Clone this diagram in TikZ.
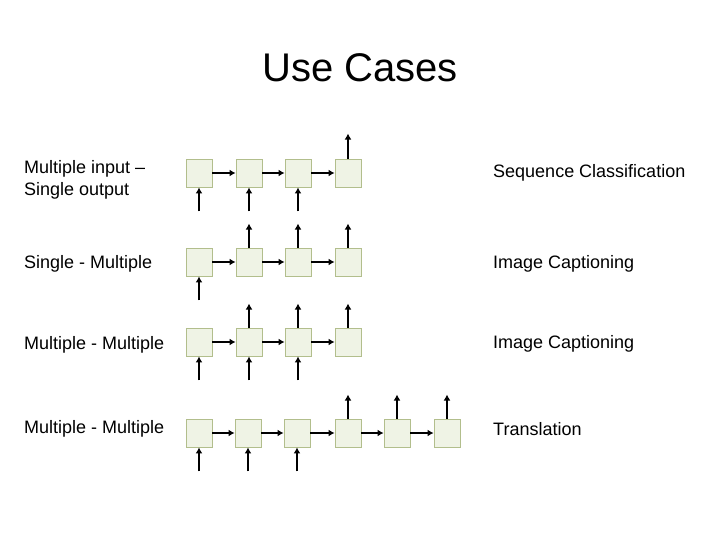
\documentclass[tikz,border=0pt]{standalone}
\usepackage{fontspec}
\setmainfont{Liberation Sans}
\usetikzlibrary{calc,arrows.meta}
\definecolor{cellfill}{RGB}{239,243,229}
\definecolor{celldraw}{RGB}{178,190,140}
\begin{document}
\begin{tikzpicture}[x=1pt,y=-1pt,
cell/.style={draw=celldraw,fill=cellfill,line width=0.9pt,minimum width=26pt,minimum height=28pt,inner sep=0pt},
link/.style={line width=2.8pt,-{Latex[length=6pt,width=7pt]}},
lbl/.style={font=\fontsize{18}{21.6}\selectfont,anchor=west,align=left,inner sep=0pt}]
\useasboundingbox (0,0) rectangle (720,540);
\node (title) at (360,68) {\fontsize{40}{44}\selectfont Use Cases};

\node[lbl] (many-one) at (24,180) {Multiple input --\\Single output};
\node[lbl] (one-many) at (24,264) {Single - Multiple};
\node[lbl] (many-many) at (24,345) {Multiple - Multiple};
\node[lbl] (seq-seq) at (24,429) {Multiple - Multiple};
\node[lbl] (classify) at (493,173) {Sequence Classification};
\node[lbl] (caption1) at (493,264) {Image Captioning};
\node[lbl] (caption2) at (493,344) {Image Captioning};
\node[lbl] (translate) at (493,429) {Translation};

\foreach \i/\x in {1/199,2/249,3/298,4/348} {
\node[cell] (a\i) at (\x,173) {};
\node[cell] (b\i) at (\x,262) {};
\node[cell] (c\i) at (\x,342) {};
}
\foreach \i/\x in {1/199,2/248,3/297,4/348,5/397,6/447}
\node[cell] (d\i) at (\x,433) {};

\foreach \i/\j in {1/2,2/3,3/4} {
\draw[link] (a\i) -- (a\j);
\draw[link] (b\i) -- (b\j);
\draw[link] (c\i) -- (c\j);
}
\foreach \i/\j in {1/2,2/3,3/4,4/5,5/6}
\draw[link] (d\i) -- (d\j);

\foreach \i in {1,2,3} {
\coordinate (ain\i) at ($(a\i.south)+(0,24)$);
\draw[link] (ain\i) -- (a\i.south);
\coordinate (cin\i) at ($(c\i.south)+(0,24)$);
\draw[link] (cin\i) -- (c\i.south);
\coordinate (din\i) at ($(d\i.south)+(0,24)$);
\draw[link] (din\i) -- (d\i.south);
}
\coordinate (bin1) at ($(b1.south)+(0,24)$);
\draw[link] (bin1) -- (b1.south);

\coordinate (aout4) at ($(a4.north)+(0,-25)$);
\draw[link] (a4.north) -- (aout4);
\foreach \i in {2,3,4} {
\coordinate (bout\i) at ($(b\i.north)+(0,-24)$);
\draw[link] (b\i.north) -- (bout\i);
\coordinate (cout\i) at ($(c\i.north)+(0,-24)$);
\draw[link] (c\i.north) -- (cout\i);
}
\foreach \i in {4,5,6} {
\coordinate (dout\i) at ($(d\i.north)+(0,-24)$);
\draw[link] (d\i.north) -- (dout\i);
}
\end{tikzpicture}
\end{document}
